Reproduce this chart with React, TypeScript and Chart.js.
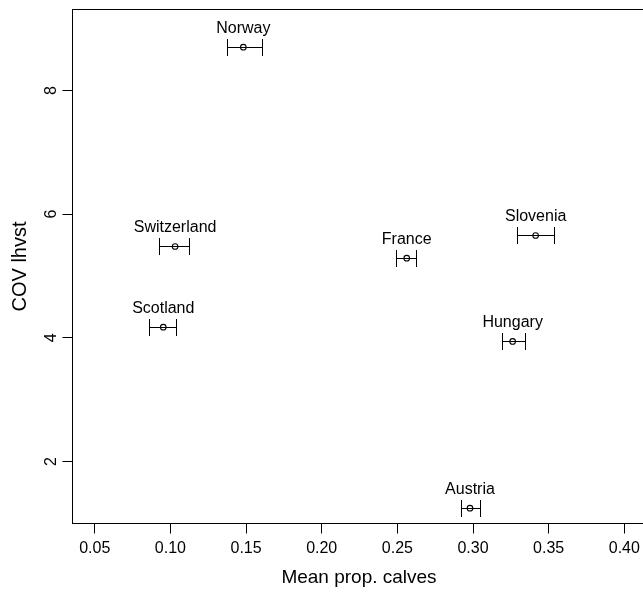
import { useEffect, useRef } from "react";
import { Chart, registerables } from "chart.js";

Chart.register(...registerables);

const countries = ["Norway", "Switzerland", "Scotland", "France", "Slovenia", "Hungary", "Austria"];
const meanPropCalves = [0.1482, 0.1031, 0.0953, 0.2562, 0.3414, 0.3262, 0.298];
const lowerBound = [0.1372, 0.0925, 0.0861, 0.2489, 0.3289, 0.3194, 0.2923];
const upperBound = [0.1608, 0.1125, 0.1037, 0.2621, 0.3535, 0.3342, 0.3046];
const covLhvst = [8.7, 5.477, 4.172, 5.288, 5.655, 3.941, 1.245];
const xTicks = [0.05, 0.1, 0.15, 0.2, 0.25, 0.3, 0.35, 0.4];
const yTicks = [2, 4, 6, 8];

const FONT = '"Liberation Sans", Arial, Helvetica, sans-serif';

const framePlugin = {
  id: "frame",
  afterDraw(chart: any) {
    const { ctx, chartArea } = chart;
    ctx.save();
    ctx.strokeStyle = "#000";
    ctx.lineWidth = 1;
    ctx.strokeRect(chartArea.left, chartArea.top, chartArea.right - chartArea.left, chartArea.bottom - chartArea.top);
    ctx.restore();
  },
};

const errorBarPlugin = {
  id: "errorBars",
  beforeDatasetsDraw(chart: any) {
    const { ctx } = chart;
    const xs = chart.scales.x;
    const ys = chart.scales.y;
    ctx.save();
    ctx.strokeStyle = "#000";
    ctx.fillStyle = "#000";
    ctx.lineWidth = 1;
    ctx.font = `16px ${FONT}`;
    ctx.textAlign = "center";
    ctx.textBaseline = "alphabetic";
    countries.forEach((name, i) => {
      const py = Math.round(ys.getPixelForValue(covLhvst[i])) + 0.5;
      const x0 = Math.round(xs.getPixelForValue(lowerBound[i])) + 0.5;
      const x1 = Math.round(xs.getPixelForValue(upperBound[i])) + 0.5;
      const px = xs.getPixelForValue(meanPropCalves[i]);
      ctx.beginPath();
      ctx.moveTo(x0, py);
      ctx.lineTo(x1, py);
      ctx.moveTo(x0, py - 8.5);
      ctx.lineTo(x0, py + 8.5);
      ctx.moveTo(x1, py - 8.5);
      ctx.lineTo(x1, py + 8.5);
      ctx.stroke();
      ctx.fillText(name, px, py - 15);
    });
    ctx.restore();
  },
};

const zeroPad = (s: any) => {
  s.paddingTop = 0;
  s.paddingBottom = 0;
  s.paddingLeft = 0;
  s.paddingRight = 0;
};

export default function App() {
  const ref = useRef<HTMLCanvasElement | null>(null);

  useEffect(() => {
    if (!ref.current) return;
    const chart = new Chart(ref.current, {
      type: "scatter",
      data: {
        datasets: [
          {
            data: meanPropCalves.map((v, i) => ({ x: v, y: covLhvst[i] })),
            pointRadius: 2.8,
            pointBorderWidth: 1.1,
            borderColor: "#000",
            backgroundColor: "rgba(0,0,0,0)",
            pointHoverRadius: 2.8,
          },
        ],
      },
      options: {
        animation: false,
        responsive: false,
        devicePixelRatio: 1,
        events: [],
        layout: { padding: { left: 0, top: 9.5, right: 14.5, bottom: 0 } },
        plugins: { legend: { display: false }, tooltip: { enabled: false } },
        scales: {
          x: {
            type: "linear",
            position: "bottom",
            min: 0.0353,
            max: 0.414,
            afterBuildTicks: (s: any) => {
              s.ticks = xTicks.map((v) => ({ value: v }));
            },
            afterFit: (s: any) => {
              s.height = 68.5;
              zeroPad(s);
            },
            grid: { display: true, drawOnChartArea: false, drawTicks: true, tickLength: 10, color: "#000", lineWidth: 1 },
            border: { display: false },
            ticks: {
              color: "#000",
              font: { family: FONT, size: 16 },
              padding: 5,
              autoSkip: false,
              maxRotation: 0,
              minRotation: 0,
              callback: (v: any) => Number(v).toFixed(2),
            },
            title: {
              display: true,
              text: "Mean prop. calves",
              color: "#000",
              font: { family: FONT, size: 19 },
              padding: { top: 0, bottom: 3 },
            },
          },
          y: {
            type: "linear",
            position: "left",
            min: 0.997,
            max: 9.31,
            afterBuildTicks: (s: any) => {
              s.ticks = yTicks.map((v) => ({ value: v }));
            },
            afterFit: (s: any) => {
              s.width = 72.5;
              zeroPad(s);
            },
            grid: { display: true, drawOnChartArea: false, drawTicks: true, tickLength: 10, color: "#000", lineWidth: 1 },
            border: { display: false },
            ticks: {
              color: "#000",
              font: { family: FONT, size: 16 },
              padding: 6,
              autoSkip: false,
              minRotation: 90,
              maxRotation: 90,
              crossAlign: "center",
              callback: (v: any) => String(v),
            },
            title: {
              display: true,
              text: "COV lhvst",
              color: "#000",
              font: { family: FONT, size: 20 },
              padding: { top: 8, bottom: 0 },
            },
          },
        },
      },
      plugins: [framePlugin, errorBarPlugin],
    } as any);
    return () => chart.destroy();
  }, []);

  return (
    <div style={{ position: "fixed", left: 0, top: 0, width: 643, height: 592, overflow: "hidden", background: "#fff" }}>
      <canvas ref={ref} width={660} height={592} style={{ display: "block", width: 660, height: 592 }} />
    </div>
  );
}
